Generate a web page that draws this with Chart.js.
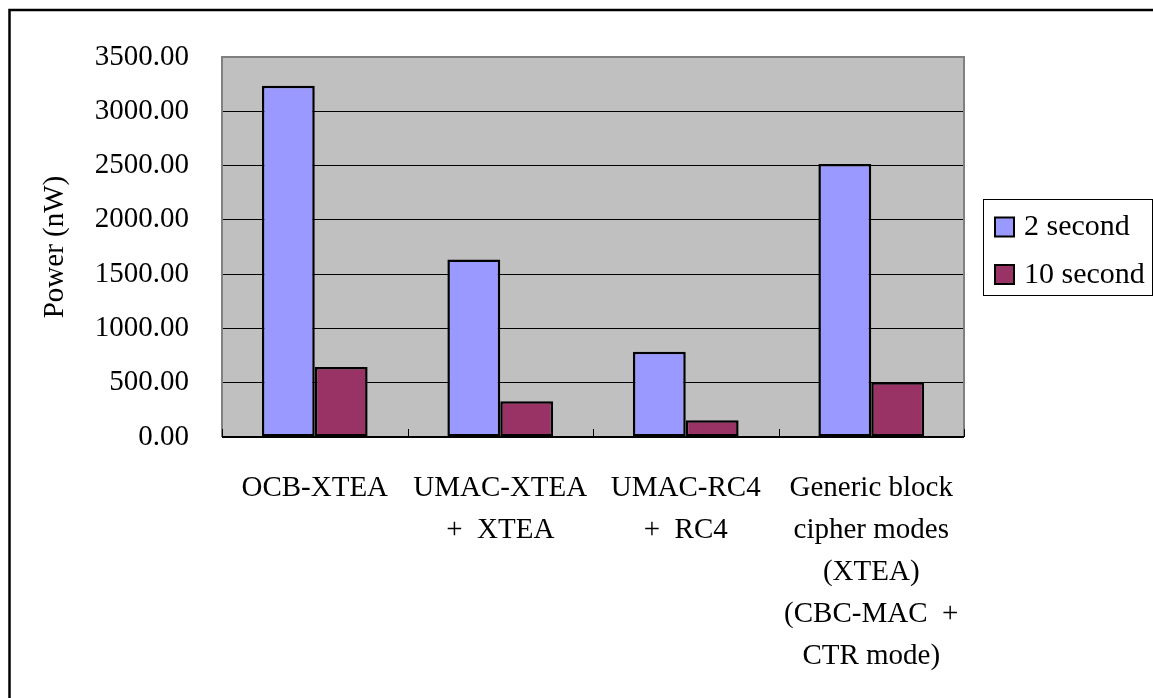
<!DOCTYPE html>
<html><head><meta charset="utf-8">
<script src="https://cdn.jsdelivr.net/npm/chart.js@4.4.1/dist/chart.umd.min.js"></script>
<style>html,body{margin:0;padding:0;background:#fff;overflow:hidden}#wrap{width:1153px;height:698px;position:relative}</style>
</head><body><div id="wrap"><canvas id="c" width="1153" height="698"></canvas></div>
<script>
const categories = [
  ["OCB-XTEA"],
  ["UMAC-XTEA", "+  XTEA"],
  ["UMAC-RC4", "+  RC4"],
  ["Generic block", "cipher modes", "(XTEA)", "(CBC-MAC  +", "CTR mode)"]
];
const seriesNames = ["2 second", "10 second"];
const values2s = [3235, 1635, 785, 2515];
const values10s = [645, 330, 155, 505];
const yMin = 0, yMax = 3500, yStep = 500;
const colors = ["#9999ff", "#993366"];

const FONT = "'Liberation Serif', 'Times New Roman', serif";

const decorPlugin = {
  id: 'decor',
  beforeDraw(chart) {
    const {ctx, chartArea: a} = chart;
    ctx.save();
    ctx.fillStyle = '#c0c0c0';
    ctx.fillRect(a.left, a.top, a.right - a.left, a.bottom - a.top);
    ctx.restore();
  },
  afterDraw(chart) {
    const {ctx, chartArea: a} = chart;
    const xs = chart.scales.x;
    ctx.save();
    // plot area border
    ctx.strokeStyle = '#808080';
    ctx.lineWidth = 2;
    ctx.beginPath();
    ctx.moveTo(a.left, a.bottom);
    ctx.lineTo(a.left, a.top);
    ctx.lineTo(a.right, a.top);
    ctx.lineTo(a.right, a.bottom);
    ctx.stroke();
    // x axis line
    ctx.strokeStyle = '#000';
    ctx.lineWidth = 2;
    ctx.beginPath();
    ctx.moveTo(a.left, a.bottom);
    ctx.lineTo(a.right, a.bottom);
    ctx.stroke();
    // x tick marks at category boundaries (inside)
    const n = categories.length;
    const half = (xs.getPixelForValue(1) - xs.getPixelForValue(0)) / 2;
    ctx.lineWidth = 1;
    for (let i = 0; i <= n; i++) {
      const x = Math.round(xs.getPixelForValue(i) - half) + 0.5;
      ctx.beginPath();
      ctx.moveTo(x, a.bottom);
      ctx.lineTo(x, a.bottom - 8);
      ctx.stroke();
    }
    // outer frame
    ctx.lineWidth = 2.5;
    ctx.beginPath();
    ctx.moveTo(9.5, 698);
    ctx.lineTo(9.5, 10);
    ctx.lineTo(1153, 10);
    ctx.stroke();
    // legend
    const lx = 983.5, ly = 199.5, lw = 169, lh = 96;
    ctx.lineWidth = 1;
    ctx.strokeStyle = '#000';
    ctx.strokeRect(lx, ly, lw, lh);
    ctx.font = '30px ' + FONT;
    ctx.textBaseline = 'middle';
    ctx.textAlign = 'left';
    const rows = [226.5, 274];
    seriesNames.forEach((name, i) => {
      const cy = rows[i];
      ctx.fillStyle = colors[i];
      ctx.fillRect(995, cy - 9, 19, 19);
      ctx.lineWidth = 2;
      ctx.strokeRect(995, cy - 9, 19, 19);
      ctx.fillStyle = '#000';
      ctx.fillText(name, 1024, cy + 1);
    });
    ctx.restore();
  }
};

new Chart(document.getElementById('c'), {
  type: 'bar',
  data: {
    labels: categories,
    datasets: [
      { label: seriesNames[0], data: values2s, backgroundColor: colors[0], borderColor: '#000', borderWidth: 2.5, borderSkipped: false },
      { label: seriesNames[1], data: values10s, backgroundColor: colors[1], borderColor: '#000', borderWidth: 2.5, borderSkipped: false }
    ]
  },
  options: {
    responsive: false,
    animation: false,
    devicePixelRatio: 1,
    layout: { padding: { left: 0, top: 57, right: 189, bottom: 0 } },
    plugins: { legend: { display: false }, tooltip: { enabled: false } },
    datasets: { bar: { categoryPercentage: 0.57, barPercentage: 1.0 } },
    scales: {
      x: {
        grid: { display: false, drawTicks: false },
        border: { display: false },
        ticks: {
          color: '#000', font: { family: FONT, size: 29, lineHeight: 1.45 },
          padding: 30, maxRotation: 0, minRotation: 0, autoSkip: false
        },
        afterFit(scale) { scale.height = 261; }
      },
      y: {
        min: yMin, max: yMax,
        grid: { color: '#000', lineWidth: 1, drawTicks: false },
        border: { display: false },
        ticks: {
          stepSize: yStep, color: '#000', padding: 33,
          font: { family: FONT, size: 29 },
          callback: v => Number(v).toFixed(2)
        },
        title: {
          display: true, text: 'Power (nW)', color: '#000',
          font: { family: FONT, size: 29 }, padding: { top: 38, bottom: 0 }
        },
        afterFit(scale) { scale.width = 222; }
      }
    }
  },
  plugins: [decorPlugin]
});
</script></body></html>
